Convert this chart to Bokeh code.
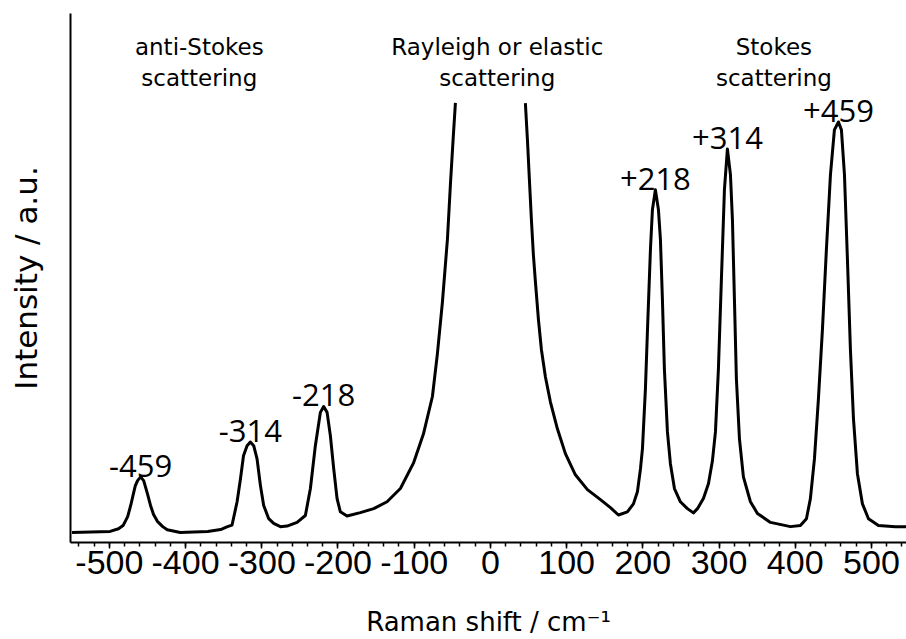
from bokeh.plotting import figure
from bokeh.models import (Range1d, SingleIntervalTicker, FixedTicker, Label, ColumnDataSource,
                          CustomJSTickFormatter)
from bokeh.core.properties import value
from bokeh.embed import file_html
from bokeh.resources import INLINE

# ---- data ----
# anti-Stokes side, up to where the Rayleigh line leaves the drawing
left_shift = [-549, -499, -488, -482, -476, -472, -468.5, -466, -463, -459, -455, -453, -450,
              -446, -442, -437, -430, -424, -407, -371, -354, -345, -339, -332.4, -328, -324,
              -319.3, -315, -310.6, -306.2, -301.8, -297.5, -290.9, -284.4, -275.6, -266.8,
              -253.7, -242.8, -236.2, -229.7, -223.1, -218.8, -214.3, -210, -205.6, -201.2,
              -196.9, -188.1, -170.6, -153.1, -135.6, -118.1, -101, -87.9, -76.1, -69.6, -63,
              -56.4, -52.5, -48.6, -45.9]
left_intensity = [1.9, 2.1, 2.6, 3.2, 4.9, 7.0, 9.2, 10.7, 11.7, 12.4, 11.7, 10.7, 9.2,
                  7.0, 5.3, 4.0, 3.0, 2.4, 1.9, 2.1, 2.45, 3.0, 3.3, 7.7, 12.0, 16.4,
                  18.3, 19.0, 18.3, 15.8, 10.8, 7.0, 4.5, 3.6, 3.0, 3.1,
                  3.8, 5.1, 10.2, 18.3, 24.6, 25.7, 24.6, 20.2, 13.9, 8.3,
                  5.8, 5.0, 5.65, 6.4, 7.7, 10.2, 15.0, 20.5, 27.6, 35.6, 45.4,
                  57.3, 67.6, 77.0, 83.1]
# Stokes side, from where the Rayleigh line comes back into the drawing
right_shift = [45.9, 48.6, 51.2, 53.8, 56.4, 59.1, 63.0, 66.9, 72.2, 78.7, 87.9, 98.4, 111.5,
               127.3, 144.4, 157.5, 168.0, 179.8, 187.7, 192.9, 196.9, 199.5, 203.4, 206, 210,
               212.6, 216.5, 220.5, 223.1, 225.7, 228.3, 232.3, 236.2, 241.5, 249.3, 258.5,
               266.4, 271.7, 279.5, 286.1, 291.3, 295.3, 299.2, 303.1, 307.1, 311.0, 315.0,
               317.6, 320.2, 322.8, 326.8, 332.0, 341.2, 350.4, 367.5, 393.7, 406.8, 414.7,
               419.9, 425.2, 430.4, 435.7, 440.9, 446.2, 451.4, 456.7, 460.6, 464.6, 468.5,
               472.4, 476.4, 481.6, 488.2, 496.1, 509.2, 531.5, 545.9]
right_intensity = [83.05, 76.1, 68.5, 61.0, 54.4, 49.2, 42.2, 36.5, 31.3, 26.6, 21.5, 16.8, 12.8,
                   10.0, 8.1, 6.6, 5.2, 5.8, 7.3, 9.6, 13.9, 17.7, 29.0, 39.7, 55.4,
                   62.9, 66.7, 62.9, 57.3, 46.0, 32.8, 20.9, 14.9, 10.2, 7.7, 6.4,
                   5.6, 6.4, 8.3, 11.1, 15.4, 20.9, 32.8, 49.7, 66.7, 74.4, 69.5,
                   61.0, 46.0, 30.9, 19.6, 12.4, 7.7, 5.5, 3.8, 3.0, 3.2, 4.5,
                   8.3, 15.8, 27.1, 40.3, 55.4, 69.5, 78.0, 79.5, 78.0, 69.5, 53.5,
                   36.5, 23.4, 13.0, 7.3, 4.5, 3.2, 3.0, 3.0]

peak_labels = ["-459", "-314", "-218", "+218", "+314", "+459"]
peak_shift = [-459, -315, -218.8, 216.5, 311, 456.7]
peak_intensity = [12.4, 19.0, 25.7, 66.7, 74.4, 79.5]

region_lines = [["anti-Stokes", "scattering"],
                ["Rayleigh or elastic", "scattering"],
                ["Stokes", "scattering"]]
region_shift = [-382, 9, 372]

x_ticks_interval = 100
x_title = "Raman shift / cm\u207b\u00b9"
y_title = "Intensity / a.u."

X0, X1 = -551, 546
Y0, Y1 = 0, 100

p = figure(width=906, height=639, x_range=Range1d(X0, X1), y_range=Range1d(Y0, Y1),
           output_backend="svg", toolbar_location=None,
           min_border_left=70, min_border_right=0, min_border_top=13, min_border_bottom=95)
p.background_fill_color = "white"
p.border_fill_color = "white"
p.outline_line_color = None
p.xgrid.visible = False
p.ygrid.visible = False

# x axis
xa = p.xaxis[0]
xa.ticker = SingleIntervalTicker(interval=x_ticks_interval, num_minor_ticks=5)
xa.formatter = CustomJSTickFormatter(code="return tick.toFixed(0);")
xa.axis_line_width = 2
xa.axis_line_color = "black"
xa.major_tick_in = 0
xa.major_tick_out = 6
xa.minor_tick_in = 0
xa.minor_tick_out = 4
xa.major_tick_line_width = 1.5
xa.minor_tick_line_width = 1.5
xa.major_tick_line_color = "black"
xa.minor_tick_line_color = "black"
xa.major_label_text_font = "Liberation Sans"
xa.major_label_text_font_size = "34px"
xa.major_label_text_color = "black"
xa.major_label_standoff = 2
xa.axis_label = x_title
xa.axis_label_text_font = "DejaVu Sans"
xa.axis_label_text_font_size = "26px"
xa.axis_label_text_font_style = "normal"
xa.axis_label_text_color = "black"
xa.axis_label_standoff = 30

# y axis: only the line and its title
ya = p.yaxis[0]
ya.ticker = FixedTicker(ticks=[])
ya.axis_line_width = 2
ya.axis_line_color = "black"
ya.major_tick_in = 0
ya.major_tick_out = 0
ya.minor_tick_in = 0
ya.minor_tick_out = 0
ya.major_label_standoff = 0
ya.axis_label = y_title
ya.axis_label_text_font = "DejaVu Sans"
ya.axis_label_text_font_size = "31px"
ya.axis_label_text_font_style = "normal"
ya.axis_label_text_color = "black"
ya.axis_label_standoff = 27

# spectrum
p.line(left_shift, left_intensity, line_color="black", line_width=3, line_join="round")
p.line(right_shift, right_intensity, line_color="black", line_width=3, line_join="round")

# peak labels
src = ColumnDataSource(dict(x=peak_shift, y=[v + 2.1 for v in peak_intensity], t=peak_labels))
p.text(x="x", y="y", text="t", source=src, text_font=value("Open Sans"),
       text_font_size="31px", text_align="center", text_baseline="alphabetic",
       text_color="black")

# region titles
for lines, xs in zip(region_lines, region_shift):
    for k, line in enumerate(lines):
        p.add_layout(Label(x=xs, y=93.6 - 5.7 * k, text=line, text_font="DejaVu Sans",
                           text_font_size="23px", text_align="center",
                           text_baseline="alphabetic", text_color="black"))

open("out.html", "w").write(file_html(p, INLINE))
